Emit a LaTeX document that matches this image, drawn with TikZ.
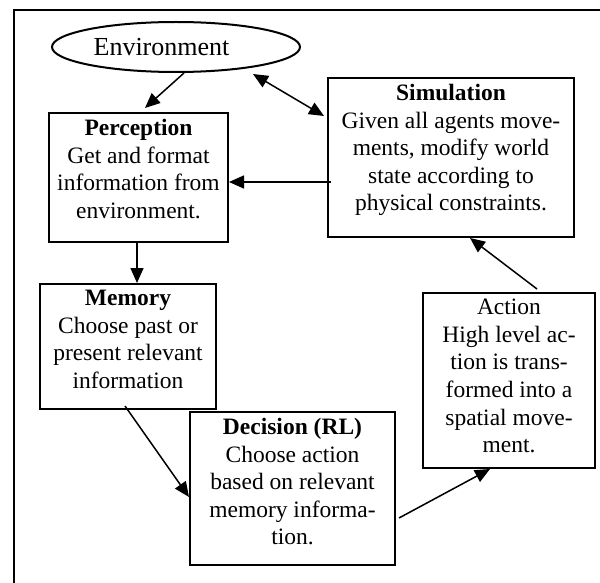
\documentclass[tikz,border=0pt]{standalone}
\usepackage{fontspec}
\setmainfont{Liberation Serif}
\usetikzlibrary{arrows.meta,shapes.geometric}
\begin{document}
\begin{tikzpicture}[x=1pt,y=-1pt,
  box/.style={draw,line width=2pt,rectangle,inner sep=0pt},
  txt/.style={anchor=north,align=center,inner sep=3pt,yshift=-4pt,
    font=\fontsize{23.5}{27.6}\selectfont},
  arr/.style={line width=1.5pt,-{Triangle[length=15pt,width=13pt]}},
  darr/.style={line width=1.5pt,{Triangle[length=15pt,width=13pt]}-{Triangle[length=15pt,width=13pt]}}]
\useasboundingbox (0,0) rectangle (600,583);
% frame
\draw[line width=2.2pt] (14,583) -- (14,10) -- (600,10);
% nodes
\node[draw,line width=2pt,ellipse,minimum width=248pt,minimum height=50pt,inner sep=0pt] (env) at (176,47) {};
\node[font=\fontsize{26}{30}\selectfont,inner sep=0pt] (envT) at (161.5,47) {Environment};
\node[box,minimum width=179pt,minimum height=129pt] (perc) at (138.5,177.5) {};
\node[txt] (percT) at (perc.north) {\textbf{Perception}\\Get and format\\information from\\environment.};
\node[box,minimum width=246pt,minimum height=159pt] (sim) at (451,157.5) {};
\node[txt] (simT) at (sim.north) {\textbf{Simulation}\\Given all agents move-\\ments, modify world\\state according to\\physical constraints.};
\node[box,minimum width=176pt,minimum height=125pt] (mem) at (128,346.5) {};
\node[txt] (memT) at (mem.north) {\textbf{Memory}\\Choose past or\\present relevant\\information};
\node[box,minimum width=205pt,minimum height=153pt] (dec) at (292.5,488.5) {};
\node[txt] (decT) at (dec.north) {\textbf{Decision (RL)}\\Choose action\\based on relevant\\memory informa-\\tion.};
\node[box,minimum width=172pt,minimum height=175pt] (act) at (509,380.5) {};
\node[txt] (actT) at (act.north) {Action\\High level ac-\\tion is trans-\\formed into a\\spatial move-\\ment.};
% connectors
\draw[arr] ([xshift=8pt]env.south) -- ([xshift=6.5pt,yshift=4pt]perc.north);
\draw[darr] ([xshift=77pt,yshift=-1pt]env.south) -- ([xshift=-3pt,yshift=-39pt]sim.north west);
\draw[arr] ([xshift=4pt,yshift=-24.5pt]sim.west) -- ([yshift=-4.5pt]perc.east);
\draw[arr] ([xshift=-1.5pt]perc.south) -- ([xshift=9pt]mem.north);
\draw[arr] ([xshift=-3pt,yshift=4pt]mem.south) -- ([yshift=-8.5pt]dec.west);
\draw[arr] ([xshift=3pt,yshift=-29.5pt]dec.east) -- ([xshift=-19pt]act.south);
\draw[arr] ([xshift=28pt,yshift=3pt]act.north) -- ([xshift=19pt]sim.south);
\end{tikzpicture}
\end{document}
